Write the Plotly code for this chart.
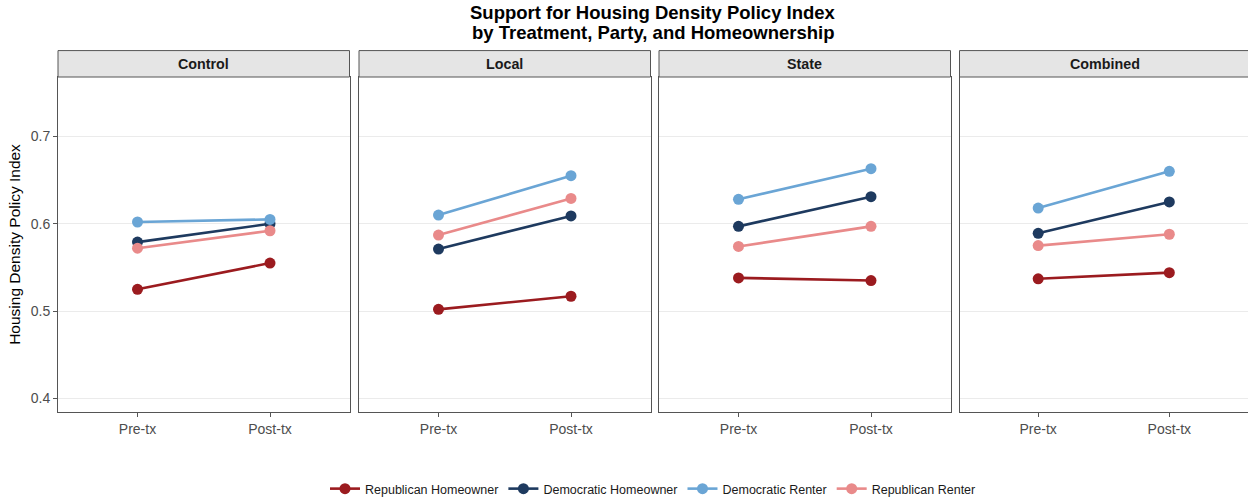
import plotly.graph_objects as go

panels = ["Control", "Local", "State", "Combined"]
time_labels = ["Pre-tx", "Post-tx"]
groups = ["Republican Homeowner", "Democratic Homeowner", "Democratic Renter", "Republican Renter"]
colors = ["#9B1B1F", "#1E3A5F", "#6AA5D5", "#E98A8A"]

rep_home = {"Control": [0.525, 0.555], "Local": [0.502, 0.517], "State": [0.538, 0.535], "Combined": [0.537, 0.544]}
dem_home = {"Control": [0.579, 0.600], "Local": [0.571, 0.609], "State": [0.597, 0.631], "Combined": [0.589, 0.625]}
dem_rent = {"Control": [0.602, 0.605], "Local": [0.610, 0.655], "State": [0.628, 0.663], "Combined": [0.618, 0.660]}
rep_rent = {"Control": [0.572, 0.592], "Local": [0.587, 0.629], "State": [0.574, 0.597], "Combined": [0.575, 0.588]}
series = [rep_home, dem_home, dem_rent, rep_rent]

title_lines = ["Support for Housing Density Policy Index", "by Treatment, Party, and Homeownership"]

W, H = 1248, 504
L, R, T, B = 58, 0, 77, 91
pw = W - L - R
ph = H - T - B
panel_left = [58, 359, 659, 959.5]
panel_w = 291.5

fig = go.Figure()
font_family = "Liberation Sans, Arial, sans-serif"

for i, p in enumerate(panels):
    x0 = (panel_left[i] - L) / pw
    x1_full = (panel_left[i] + panel_w - L) / pw
    x1 = min(x1_full, 1.0)
    xa = "xaxis" if i == 0 else f"xaxis{i+1}"
    ya = "yaxis" if i == 0 else f"yaxis{i+1}"
    xr = "x" if i == 0 else f"x{i+1}"
    yr = "y" if i == 0 else f"y{i+1}"
    for g, s, c in zip(groups, series, colors):
        fig.add_trace(go.Scatter(
            x=[0, 1], y=s[p], mode="lines+markers", name=g,
            line=dict(color=c, width=2.6), marker=dict(color=c, size=11),
            xaxis=xr, yaxis=yr, showlegend=(i == 0), legendgroup=g,
        ))
    fig.layout[xa] = dict(
        domain=[x0, x1], range=[-0.6, 1.6], tickvals=[0, 1], ticktext=time_labels,
        showgrid=False, zeroline=False, showline=True, mirror=True, linecolor="#555555", linewidth=1,
        ticks="outside", ticklen=4, tickcolor="#555555",
        tickfont=dict(size=14, color="#4D4D4D", family=font_family), anchor=yr, fixedrange=True,
    )
    fig.layout[ya] = dict(
        domain=[0, 1], range=[0.3845, 0.768], tickvals=[0.4, 0.5, 0.6, 0.7],
        ticktext=["0.4", "0.5", "0.6", "0.7"], showticklabels=(i == 0),
        showgrid=True, gridcolor="#EBEBEB", gridwidth=1, zeroline=False,
        showline=True, mirror=True, linecolor="#555555", linewidth=1,
        ticks="outside" if i == 0 else "", ticklen=4, tickcolor="#555555",
        tickfont=dict(size=14, color="#4D4D4D", family=font_family), anchor=xr, fixedrange=True,
    )
    # strip
    fig.add_shape(type="rect", xref="paper", yref="paper", x0=x0, x1=x1_full,
                  y0=1, y1=1 + 26.5 / ph, fillcolor="#E5E5E5",
                  line=dict(color="#555555", width=1), layer="above")
    fig.add_annotation(xref="paper", yref="paper", x=(x0 + x1_full) / 2, xanchor="center",
                       y=1 + 13.5 / ph, text=f"<b>{p}</b>", showarrow=False,
                       font=dict(size=14.3, color="#1A1A1A", family=font_family), yanchor="middle")

for k, line in enumerate(title_lines):
    fig.add_annotation(xref="paper", yref="paper", x=(653 - L) / pw, xanchor="center",
                       y=1 + (T - (12.5 + 20 * k)) / ph, yanchor="middle",
                       text=f"<b>{line}</b>", showarrow=False,
                       font=dict(size=18.5, color="black", family=font_family))

fig.layout.yaxis.title = dict(text="Housing Density Policy Index", font=dict(size=15.5, color="black", family=font_family), standoff=6)

fig.update_layout(
    width=W, height=H,
    margin=dict(l=L, r=R, t=T, b=B),
    paper_bgcolor="white", plot_bgcolor="white",
    legend=dict(orientation="h", x=0.5, xanchor="center", y=-77 / ph, yanchor="middle",
                font=dict(size=12.5, color="#1A1A1A", family=font_family), itemwidth=30,
                traceorder="normal"),
    font=dict(family=font_family),
    showlegend=True,
)

fig.write_html("out.html")
